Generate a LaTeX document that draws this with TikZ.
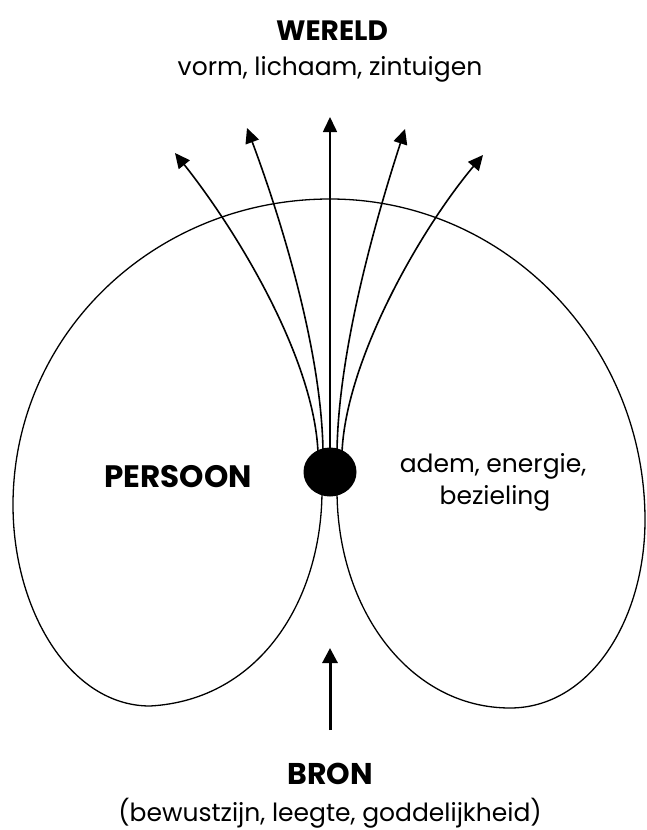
\documentclass[tikz,border=0pt]{standalone}
\usepackage{fontspec}
\setmainfont{Poppins}
\usetikzlibrary{arrows.meta,shapes.geometric}
\begin{document}
\begin{tikzpicture}[x=1pt,y=-1pt,
  flow/.style={line width=1.6pt,-{Triangle[length=15pt,width=14pt]}},
  bigflow/.style={line width=3pt,-{Triangle[length=15pt,width=15pt]}},
  outline/.style={line width=1.3pt},
  title/.style={font=\fontsize{#1}{32}\selectfont\bfseries, anchor=base, inner sep=0pt},
  title/.default=28,
  sub/.style={font=\fontsize{25}{28}\selectfont, anchor=base, inner sep=0pt}]
\useasboundingbox (0,0) rectangle (646,830);

% outline of the person
\draw[outline] (322,490)
  .. controls (322,600) and (260,700) .. (150,706)
  .. controls (70,706) and (13,610) .. (13,505)
  .. controls (13,334) and (155,199) .. (330,199)
  .. controls (504,199) and (645,343) .. (645,520)
  .. controls (645,620) and (590,708) .. (510,708)
  .. controls (410,708) and (337,610) .. (337,490);

% source dot
\node (src) [shape=ellipse, fill=black, minimum width=53pt, minimum height=49pt, inner sep=0pt] at (330,472) {};

% arrow tips
\coordinate (t1) at (175,153);
\coordinate (t2) at (247,128);
\coordinate (t3) at (330,117);
\coordinate (t4) at (405,129);
\coordinate (t5) at (483,155);

\draw[flow] ([xshift=-12pt,yshift=-5pt]src.north) .. controls (314,360) and (240,235) .. (t1);
\draw[flow] ([xshift=-7pt,yshift=-3pt]src.north) .. controls (321,340) and (274,200) .. (t2);
\draw[flow] ([yshift=-3pt]src.north) -- (t3);
\draw[flow] ([xshift=7pt,yshift=-3pt]src.north) .. controls (339,340) and (382,200) .. (t4);
\draw[flow] ([xshift=12pt,yshift=-5pt]src.north) .. controls (346,360) and (420,230) .. (t5);

% bottom arrow
\coordinate (bstart) at (330,730);
\coordinate (btip) at (330,648);
\draw[bigflow] (bstart) -- (btip);

% texts
\node[title=28] (wereld) at (332,40) {WERELD};
\node[sub] (vorm) at (330,75) {vorm, lichaam, zintuigen};
\node[title=31] (persoon) at (178,487) {PERSOON};
\node[sub] (adem1) at (493,472) {adem, energie,};
\node[sub] (adem2) at (495,504) {bezieling};
\node[title=30] (bron) at (330,784) {BRON};
\node[sub] (bew) at (330,821) {(bewustzijn, leegte, goddelijkheid)};
\end{tikzpicture}
\end{document}
